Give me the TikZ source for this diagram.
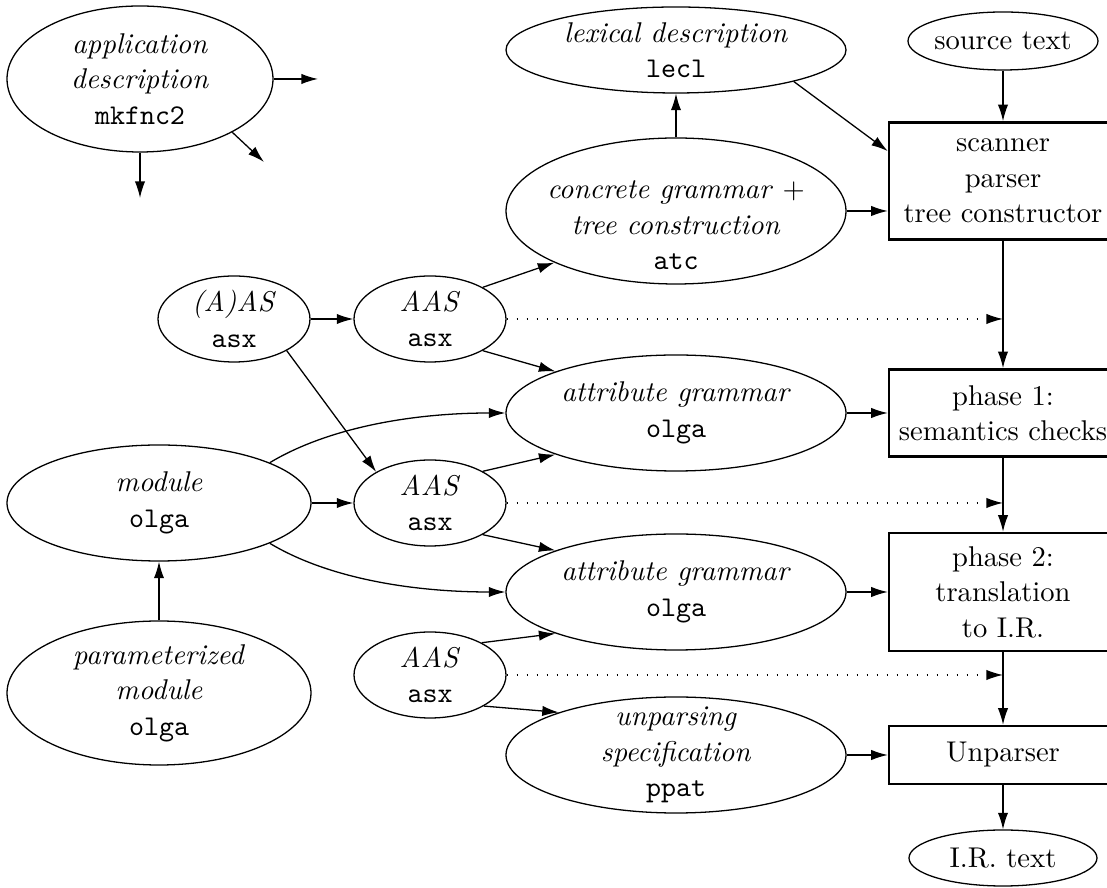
\documentclass[tikz,border=0pt]{standalone}
\usetikzlibrary{arrows.meta,shapes.geometric,calc}
\begin{document}
\begin{tikzpicture}[x=0.35pt,y=-0.35pt,
  thin line/.style={line width=0.45pt},
  arr/.style={thin line,-{Latex[length=5.8pt,width=3.6pt]}},
  dotarr/.style={arr,dash pattern=on 0.45pt off 3.05pt},
  oval/.style n args={2}{ellipse,draw,thin line,inner sep=0pt,
    minimum width=#1,minimum height=#2},
  txt/.style={align=center,inner sep=0pt,font=\fontsize{10}{12.4}\selectfont},
  stage/.style={rectangle,draw,line width=0.85pt,minimum width=79.8pt,
    inner sep=0pt,align=center}]
\useasboundingbox (0,0) rectangle (1107,888);

% specification inputs
\node[oval={93.1pt}{51.1pt},label={[txt]center:{\textit{application}\\\textit{description}\\\texttt{mkfnc2}}}] (app) at (140,79) {};
\node[oval={119pt}{30.1pt},label={[txt]center:{\textit{lexical description}\\\texttt{lecl}}}] (lex) at (676,50) {};
\node[oval={66.5pt}{20.3pt},label={[txt]center:{source text}}] (src) at (1003,41) {};
\node[oval={119pt}{51.1pt},label={[txt,yshift=-5pt]center:{\textit{concrete grammar} $+$\\\textit{tree construction}\\\texttt{atc}}}] (conc) at (676,211) {};
\node[oval={53.2pt}{30.1pt},label={[txt]center:{\textit{(A)AS}\\\texttt{asx}}}] (aas0) at (234,319) {};
\node[oval={53.2pt}{30.1pt},label={[txt]center:{\textit{AAS}\\\texttt{asx}}}] (aas1) at (430,319) {};
\node[oval={119pt}{40.6pt},label={[txt]center:{\textit{attribute grammar}\\\texttt{olga}}}] (attr1) at (676,413) {};
\node[oval={106.4pt}{40.6pt},label={[txt]center:{\textit{module}\\\texttt{olga}}}] (mod) at (159,503) {};
\node[oval={53.2pt}{30.1pt},label={[txt]center:{\textit{AAS}\\\texttt{asx}}}] (aas2) at (430,503) {};
\node[oval={119pt}{40.6pt},label={[txt]center:{\textit{attribute grammar}\\\texttt{olga}}}] (attr2) at (676,592) {};
\node[oval={106.4pt}{50.4pt},label={[txt]center:{\textit{parameterized}\\\textit{module}\\\texttt{olga}}}] (param) at (159,693) {};
\node[oval={53.2pt}{30.1pt},label={[txt]center:{\textit{AAS}\\\texttt{asx}}}] (aas3) at (430,675) {};
\node[oval={119pt}{40.6pt},label={[txt]center:{\textit{unparsing}\\\textit{specification}\\\texttt{ppat}}}] (unps) at (676,755) {};
\node[oval={65.8pt}{19.6pt},label={[txt]center:{I.R. text}}] (ir) at (1003,858) {};

% compiler stages
\node[stage,minimum height=41pt,txt] (scan) at (1003,181) {scanner\\parser\\tree constructor};
\node[stage,minimum height=30.5pt,txt] (p1) at (1003,413) {phase 1:\\semantics checks};
\node[stage,minimum height=41.3pt,txt] (p2) at (1003,592) {phase 2:\\translation\\to I.R.};
\node[stage,minimum height=20.3pt,txt] (unp) at (1003,755) {Unparser};

% loose ends of the application description
\coordinate (appE) at (318,79);
\coordinate (appSE) at (264,162);
\coordinate (appS) at (140,198);
\draw[arr] (app.east) -- (appE);
\draw[arr] (app.-30) -- (appSE);
\draw[arr] (app.south) -- (appS);

% front end
\draw[arr] (conc.north) -- (lex.south);
\draw[arr] (lex.-15) -- ($(scan.north west)!0.25!(scan.south west)$);
\draw[arr] (conc.east) -- (conc.east -| scan.west);
\draw[arr] (src.south) -- (scan.north);

% abstract syntax
\draw[arr] (aas0.east) -- (aas1.west);
\draw[arr] (aas0.-31) -- (aas2.150);
\draw[arr] (aas1.31) -- (conc.203);
\draw[arr] (aas1.-31) -- (attr1.161);
\draw[arr] (aas2.31) -- (attr1.199);
\draw[arr] (aas2.-31) -- (attr2.161);
\draw[arr] (aas3.32) -- (attr2.199);
\draw[arr] (aas3.-30) -- (unps.160);
\draw[dotarr] (aas1.east) -- (aas1.east -| scan.south);
\draw[dotarr] (aas2.east) -- (aas2.east -| scan.south);
\draw[dotarr] (aas3.east) -- (aas3.east -| scan.south);

% modules
\draw[arr] (mod.20) .. controls +(60,-36) and +(-90,0) .. (attr1.west);
\draw[arr] (mod.east) -- (aas2.west);
\draw[arr] (mod.-20) .. controls +(60,36) and +(-90,0) .. (attr2.west);
\draw[arr] (param.north) -- (mod.south);

% into the stages
\draw[arr] (attr1.east) -- (p1.west);
\draw[arr] (attr2.east) -- (p2.west);
\draw[arr] (unps.east) -- (unp.west);

% pipeline
\draw[arr] (scan.south) -- (p1.north);
\draw[arr] (p1.south) -- (p2.north);
\draw[arr] (p2.south) -- (unp.north);
\draw[arr] (unp.south) -- (ir.north);
\end{tikzpicture}
\end{document}
